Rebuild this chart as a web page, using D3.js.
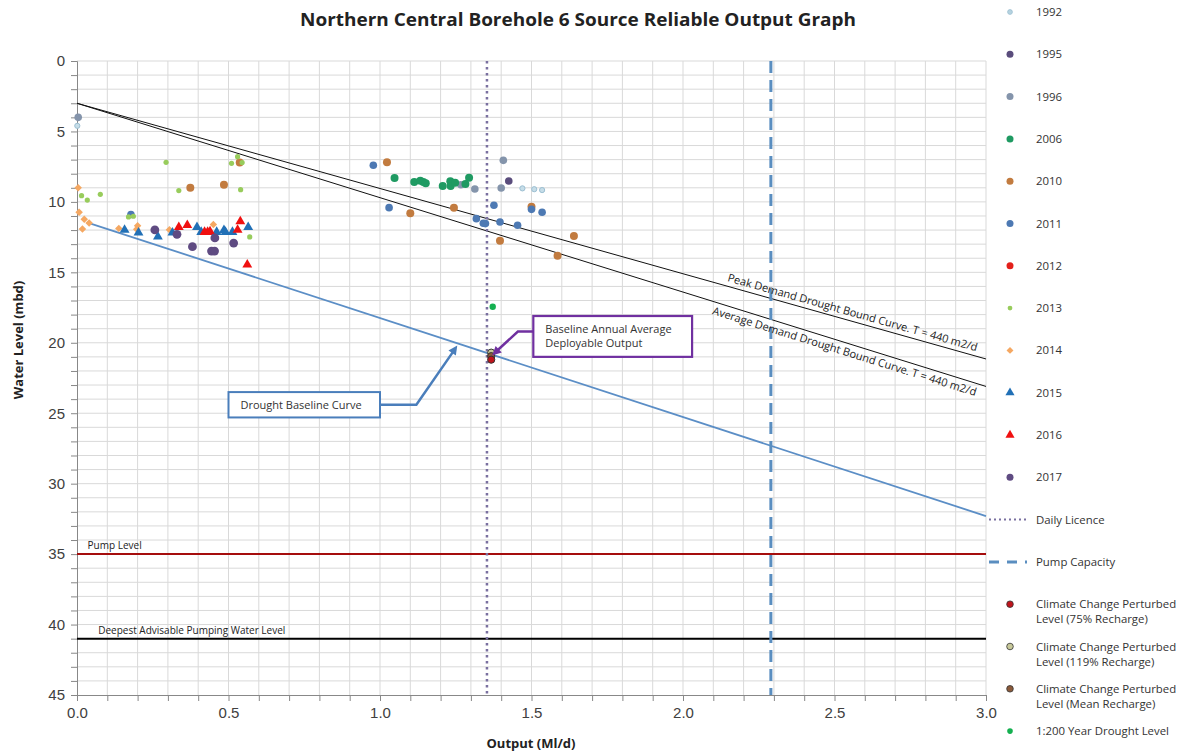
<!DOCTYPE html>
<html>
<head>
<meta charset="utf-8">
<script src="https://cdn.jsdelivr.net/npm/d3@7"></script>
<style>
  body { margin: 0; background: #fff; }
  svg { font-family: "Open Sans", "Noto Sans", sans-serif; }
</style>
</head>
<body>
<svg id="chart" width="1184" height="753"></svg>
<script>
// ---- data ----
var xTicks = [0, 0.5, 1.0, 1.5, 2.0, 2.5, 3.0];
var yTicks = [0, 5, 10, 15, 20, 25, 30, 35, 40, 45];

var s1992 = [[0.001, 4.6], [1.47, 9.04], [1.509, 9.1], [1.535, 9.16]];
var s1995 = [[1.425, 8.52]];
var s1996 = [[0.004, 4.0], [1.407, 7.05], [1.313, 9.08], [1.40, 9.01], [1.267, 8.78]];
var s2006 = [[1.048, 8.3], [1.113, 8.59], [1.133, 8.5], [1.143, 8.59], [1.151, 8.68], [1.207, 8.87],
             [1.232, 8.54], [1.233, 8.87], [1.248, 8.64], [1.282, 8.73], [1.294, 8.28]];
var s2010 = [[0.374, 9.0], [0.485, 8.78], [0.537, 7.21], [1.023, 7.19], [1.10, 10.81], [1.244, 10.41],
             [1.396, 12.75], [1.50, 10.34], [1.586, 13.82], [1.64, 12.42]];
var s2011 = [[0.178, 10.9], [0.978, 7.4], [1.03, 10.41], [1.318, 11.19], [1.341, 11.52], [1.348, 11.54],
             [1.376, 10.24], [1.396, 11.43], [1.454, 11.66], [1.50, 10.53], [1.535, 10.74]];
var s2012 = [];
var s2013 = [[0.015, 9.56], [0.034, 9.87], [0.077, 9.46], [0.17, 11.07], [0.186, 11.02], [0.294, 7.19],
             [0.336, 9.2], [0.51, 7.26], [0.53, 6.79], [0.545, 7.21], [0.54, 9.13], [0.57, 12.49]];
var s2014 = [[0.004, 9.0], [0.007, 10.74], [0.024, 11.24], [0.018, 11.92], [0.04, 11.5], [0.138, 11.88],
             [0.20, 11.7], [0.197, 11.95], [0.305, 11.97], [0.45, 11.6]];
var s2015 = [[0.157, 11.99], [0.203, 12.18], [0.267, 12.47], [0.315, 12.18], [0.396, 11.8], [0.41, 12.14],
             [0.461, 12.14], [0.485, 12.0], [0.49, 12.14], [0.513, 12.14], [0.565, 11.8]];
var s2016 = [[0.336, 11.8], [0.364, 11.66], [0.421, 12.14], [0.431, 12.14], [0.439, 12.09], [0.53, 11.99],
             [0.539, 11.38], [0.562, 14.46]];
var s2017 = [[0.257, 11.99], [0.33, 12.3], [0.381, 13.18], [0.444, 13.49], [0.454, 13.49], [0.455, 12.56],
             [0.517, 12.92]];
var cc75 = [[1.367, 21.2]];
var cc119 = [[1.367, 20.7]];
var ccMean = [[1.367, 20.95]];
var drought200 = [[1.372, 17.44]];

var peakCurve = [[0, 3.0], [3.0, 21.15]];
var avgCurve = [[0, 3.0], [3.0, 23.1]];
var baselineCurve = [[0.04, 11.5], [3.0, 32.3]];
var dailyLicence = 1.353;
var pumpCapacity = 2.29;
var pumpLevel = 35;
var deepestLevel = 41;

var seriesNames = ["1992", "1995", "1996", "2006", "2010", "2011", "2012", "2013", "2014", "2015", "2016", "2017"];

// ---- chart ----
var svg = d3.select("#chart");
var x = d3.scaleLinear().domain([0, 3]).range([77, 986]);
var y = d3.scaleLinear().domain([0, 45]).range([61, 695]);

// grid
var g = svg.append("g");
g.selectAll(".vg").data(d3.range(1, 31).map(function(i) { return i / 10; }))
  .enter().append("line")
  .attr("x1", function(d) { return x(d); }).attr("x2", function(d) { return x(d); })
  .attr("y1", y(0)).attr("y2", y(45))
  .attr("stroke", "#d9d9d9").attr("stroke-width", 1);
g.selectAll(".hg").data(d3.range(0, 45))
  .enter().append("line")
  .attr("x1", x(0)).attr("x2", x(3))
  .attr("y1", function(d) { return y(d); }).attr("y2", function(d) { return y(d); })
  .attr("stroke", "#d9d9d9").attr("stroke-width", 1);

// axes
var yAxis = svg.append("g").attr("transform", "translate(" + x(0) + ",0)")
  .call(d3.axisLeft(y).tickValues(d3.range(0, 46)).tickSize(6)
    .tickFormat(function(d) { return d % 5 === 0 ? d : ""; }));
var xAxis = svg.append("g").attr("transform", "translate(0," + y(45) + ")")
  .call(d3.axisBottom(x).tickValues(d3.range(0, 31).map(function(i) { return i / 10; })).tickSize(6)
    .tickFormat(function(d) { return Math.round(d * 10) % 5 === 0 ? d3.format(".1f")(d) : ""; }));
[xAxis, yAxis].forEach(function(a) {
  a.select(".domain").attr("stroke", "#888");
  a.selectAll(".tick line").attr("stroke", "#888");
  a.selectAll("text").attr("fill", "#404040").style("font-size", "15px");
});
yAxis.selectAll("text").attr("x", -12);
xAxis.selectAll("text").attr("y", 12);

var line = d3.line().x(function(d) { return x(d[0]); }).y(function(d) { return y(d[1]); });

// horizontal levels
svg.append("line").attr("x1", x(0)).attr("x2", x(3)).attr("y1", y(pumpLevel)).attr("y2", y(pumpLevel))
  .attr("stroke", "#a50d0d").attr("stroke-width", 2);
svg.append("line").attr("x1", x(0)).attr("x2", x(3)).attr("y1", y(deepestLevel)).attr("y2", y(deepestLevel))
  .attr("stroke", "#000").attr("stroke-width", 2);
svg.append("text").attr("x", x(0.035)).attr("y", y(pumpLevel) - 5).text("Pump Level")
  .style("font-size", "10px").attr("fill", "#222");
svg.append("text").attr("x", x(0.07)).attr("y", y(deepestLevel) - 5).text("Deepest  Advisable Pumping Water Level")
  .style("font-size", "10px").attr("fill", "#222");

// curves
svg.append("path").datum(peakCurve).attr("d", line).attr("fill", "none").attr("stroke", "#111").attr("stroke-width", 1);
svg.append("path").datum(avgCurve).attr("d", line).attr("fill", "none").attr("stroke", "#111").attr("stroke-width", 1);
svg.append("path").datum(baselineCurve).attr("d", line).attr("fill", "none").attr("stroke", "#5b8ec6").attr("stroke-width", 1.8);

// vertical lines
svg.append("line").attr("x1", x(dailyLicence)).attr("x2", x(dailyLicence)).attr("y1", y(0)).attr("y2", y(45))
  .attr("stroke", "#7a70a0").attr("stroke-width", 2.5).attr("stroke-dasharray", "2.5,3.5");
svg.append("line").attr("x1", x(pumpCapacity)).attr("x2", x(pumpCapacity)).attr("y1", y(0)).attr("y2", y(45))
  .attr("stroke", "#5a8ec0").attr("stroke-width", 3).attr("stroke-dasharray", "12,7");

// curve labels
function angleOf(c) {
  return Math.atan2(y(c[1][1]) - y(c[0][1]), x(c[1][0]) - x(c[0][0])) * 180 / Math.PI;
}
function yOn(c, xv) { return c[0][1] + (xv - c[0][0]) * (c[1][1] - c[0][1]) / (c[1][0] - c[0][0]); }
var px = 2.145;
svg.append("text").attr("transform", "translate(" + x(px) + "," + (y(yOn(peakCurve, px)) - 5) + ") rotate(" + angleOf(peakCurve) + ")")
  .text("Peak Demand Drought Bound Curve. T = 440 m2/d").style("font-size", "11px").attr("fill", "#222");
var ax = 2.095;
svg.append("text").attr("transform", "translate(" + x(ax) + "," + (y(yOn(avgCurve, ax)) + 13) + ") rotate(" + angleOf(avgCurve) + ")")
  .text("Average Demand Drought Bound Curve. T = 440 m2/d").style("font-size", "11px").attr("fill", "#222");

// scatter
function dots(data, r, fill, stroke) {
  svg.append("g").selectAll("circle").data(data).enter().append("circle")
    .attr("cx", function(d) { return x(d[0]); }).attr("cy", function(d) { return y(d[1]); })
    .attr("r", r).attr("fill", fill).attr("stroke", stroke || "none").attr("stroke-width", 1);
}
function syms(data, type, size, fill, rot) {
  svg.append("g").selectAll("path").data(data).enter().append("path")
    .attr("transform", function(d) { return "translate(" + x(d[0]) + "," + y(d[1]) + ") rotate(" + (rot || 0) + ")"; })
    .attr("d", d3.symbol().type(type).size(size)).attr("fill", fill);
}
dots(s1996, 3.8, "#8494ab");
dots(s1992, 2.6, "#c6dde8", "#9cbfd2");
dots(s1995, 3.8, "#5a4c7c");
dots(s2006, 4, "#1f9a62");
dots(s2010, 4, "#c27b3f");
dots(s2011, 3.8, "#4d79b3");
dots(s2012, 3.8, "#e3201b");
dots(s2013, 2.6, "#98cc5c");
syms(s2014, d3.symbolSquare, 28, "#f5a862", 45);
syms(s2015, d3.symbolTriangle, 42, "#2170b6");
syms(s2016, d3.symbolTriangle, 42, "#f01010");
dots(s2017, 4.4, "#5f4b82");
dots(drought200, 3.2, "#14b050");
dots(cc119, 3.6, "#c8c99a", "#333");
dots(ccMean, 3.6, "#8b5a3a", "#333");
dots(cc75, 3.6, "#c0141c", "#333");

// callouts
function arrowHead(tip, from, color) {
  var a = Math.atan2(tip[1] - from[1], tip[0] - from[0]);
  var L = 9, W = 4.5;
  var p = [tip,
    [tip[0] - L * Math.cos(a) + W * Math.sin(a), tip[1] - L * Math.sin(a) - W * Math.cos(a)],
    [tip[0] - L * Math.cos(a) - W * Math.sin(a), tip[1] - L * Math.sin(a) + W * Math.cos(a)]];
  svg.append("path").attr("d", "M" + p.join("L") + "Z").attr("fill", color);
}
// Drought baseline callout
var c1 = { x0: 0.5, y0: 23.5, x1: 1.0, y1: 25.3, elbow: [1.12, 24.4], tip: [1.255, 20.2] };
svg.append("rect").attr("x", x(c1.x0)).attr("y", y(c1.y0)).attr("width", x(c1.x1) - x(c1.x0)).attr("height", y(c1.y1) - y(c1.y0))
  .attr("fill", "#fff").attr("stroke", "#4a7ebb").attr("stroke-width", 2);
svg.append("text").attr("x", x(c1.x0) + 12).attr("y", y(24.4) + 4).text("Drought Baseline Curve")
  .style("font-size", "11px").attr("fill", "#333");
var c1pts = [[x(c1.x1), y(24.4)], [x(c1.elbow[0]), y(c1.elbow[1])], [x(c1.tip[0]) - 2, y(c1.tip[1]) + 3]];
svg.append("path").attr("d", "M" + c1pts.join("L")).attr("fill", "none").attr("stroke", "#4a7ebb").attr("stroke-width", 2.5);
arrowHead([x(c1.tip[0]), y(c1.tip[1])], c1pts[1], "#4a7ebb");

// Baseline annual average callout
var c2 = { x0: 1.506, y0: 18.1, x1: 2.03, y1: 21.0, elbow: [1.455, 19.2], tip: [1.37, 20.9] };
svg.append("rect").attr("x", x(c2.x0)).attr("y", y(c2.y0)).attr("width", x(c2.x1) - x(c2.x0)).attr("height", y(c2.y1) - y(c2.y0))
  .attr("fill", "#fff").attr("stroke", "#7030a0").attr("stroke-width", 2.2);
svg.append("text").attr("x", x(c2.x0) + 12).attr("y", y(19.2) + 1).text("Baseline Annual Average")
  .style("font-size", "11px").attr("fill", "#333");
svg.append("text").attr("x", x(c2.x0) + 12).attr("y", y(20.2) + 1).text("Deployable Output")
  .style("font-size", "11px").attr("fill", "#333");
var c2pts = [[x(c2.x0), y(19.2)], [x(c2.elbow[0]), y(c2.elbow[1])], [x(c2.tip[0]) + 3, y(c2.tip[1]) - 3]];
svg.append("path").attr("d", "M" + c2pts.join("L")).attr("fill", "none").attr("stroke", "#7030a0").attr("stroke-width", 2.5);
arrowHead([x(c2.tip[0]), y(c2.tip[1])], c2pts[1], "#7030a0");

// title + axis titles
svg.append("text").attr("x", 578).attr("y", 26).attr("text-anchor", "middle")
  .text("Northern Central Borehole 6 Source Reliable Output Graph")
  .style("font-size", "17px").style("font-weight", "bold").attr("fill", "#222")
  .attr("textLength", 556).attr("lengthAdjust", "spacingAndGlyphs");
svg.append("text").attr("transform", "translate(23,340) rotate(-90)").attr("text-anchor", "middle")
  .text("Water Level (mbd)").style("font-size", "13px").style("font-weight", "bold").attr("fill", "#222");
svg.append("text").attr("x", 531).attr("y", 748).attr("text-anchor", "middle")
  .text("Output (Ml/d)").style("font-size", "13px").style("font-weight", "bold").attr("fill", "#222");

// legend
var legendItems = [
  { label: ["1992"], kind: "dot", r: 2.4, fill: "#b6d3e0", stroke: "#9cbfd2" },
  { label: ["1995"], kind: "dot", r: 3.5, fill: "#5a4c7c" },
  { label: ["1996"], kind: "dot", r: 3.5, fill: "#8494ab" },
  { label: ["2006"], kind: "dot", r: 3.5, fill: "#1f9a62" },
  { label: ["2010"], kind: "dot", r: 3.5, fill: "#c27b3f" },
  { label: ["2011"], kind: "dot", r: 3.5, fill: "#4d79b3" },
  { label: ["2012"], kind: "dot", r: 3.5, fill: "#e3201b" },
  { label: ["2013"], kind: "dot", r: 2.4, fill: "#98cc5c" },
  { label: ["2014"], kind: "sym", type: d3.symbolSquare, size: 24, rot: 45, fill: "#f5a862" },
  { label: ["2015"], kind: "sym", type: d3.symbolTriangle, size: 36, fill: "#2170b6" },
  { label: ["2016"], kind: "sym", type: d3.symbolTriangle, size: 36, fill: "#f01010" },
  { label: ["2017"], kind: "dot", r: 3.5, fill: "#5f4b82" },
  { label: ["Daily Licence"], kind: "line", stroke: "#7a70a0", dash: "2,3", w: 2 },
  { label: ["Pump Capacity"], kind: "line", stroke: "#5a8ec0", dash: "10,8", w: 3 },
  { label: ["Climate Change Perturbed", "Level (75% Recharge)"], kind: "dot", r: 3.3, fill: "#c0141c", stroke: "#333" },
  { label: ["Climate Change Perturbed", "Level (119% Recharge)"], kind: "dot", r: 3.3, fill: "#c8c99a", stroke: "#333" },
  { label: ["Climate Change Perturbed", "Level (Mean Recharge)"], kind: "dot", r: 3.3, fill: "#8b5a3a", stroke: "#333" },
  { label: ["1:200 Year Drought Level"], kind: "dot", r: 2.8, fill: "#14b050" }
];
var lg = svg.append("g");
legendItems.forEach(function(it, i) {
  var cy = 12 + i * 42.3;
  var mx = 1010;
  if (it.kind === "dot") {
    lg.append("circle").attr("cx", mx).attr("cy", cy).attr("r", it.r).attr("fill", it.fill)
      .attr("stroke", it.stroke || "none").attr("stroke-width", 0.8);
  } else if (it.kind === "sym") {
    lg.append("path").attr("transform", "translate(" + mx + "," + cy + ") rotate(" + (it.rot || 0) + ")")
      .attr("d", d3.symbol().type(it.type).size(it.size)).attr("fill", it.fill);
  } else {
    lg.append("line").attr("x1", 989).attr("x2", 1027).attr("y1", cy).attr("y2", cy)
      .attr("stroke", it.stroke).attr("stroke-width", it.w).attr("stroke-dasharray", it.dash);
  }
  it.label.forEach(function(t, j) {
    lg.append("text").attr("x", 1036).attr("y", cy + 4 + j * 15).text(t)
      .style("font-size", "11.4px").attr("fill", "#333");
  });
});
</script>
</body>
</html>
